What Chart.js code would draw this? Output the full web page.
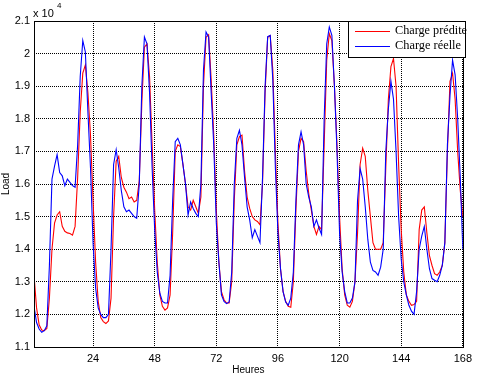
<!DOCTYPE html>
<html>
<head>
<meta charset="utf-8">
<script src="https://cdn.jsdelivr.net/npm/chart.js@4/dist/chart.umd.min.js"></script>
<style>
  html, body { margin: 0; padding: 0; background: #fff; }
  canvas { display: block; }
</style>
</head>
<body>
<canvas id="loadChart" width="477" height="378"></canvas>
<script>
/* ================= Data (x 10^4) ================= */
const hours = [];
for (let h = 1; h <= 168; h++) hours.push(h);

const xTicks = [24, 48, 72, 96, 120, 144, 168];
const yTicks = [1.1, 1.2, 1.3, 1.4, 1.5, 1.6, 1.7, 1.8, 1.9, 2, 2.1];

const chargePredite = [
  1.32, 1.22, 1.168, 1.152, 1.15, 1.157, 1.25, 1.40, 1.48, 1.505, 1.515, 1.47,
  1.455, 1.45, 1.448, 1.443, 1.47, 1.62, 1.82, 1.94, 1.965, 1.88, 1.75, 1.55,
  1.36, 1.24, 1.19, 1.178, 1.172, 1.18, 1.25, 1.50, 1.67, 1.685, 1.62, 1.59,
  1.575, 1.555, 1.56, 1.545, 1.55, 1.61, 1.85, 2.02, 2.03, 1.93, 1.72, 1.52,
  1.36, 1.26, 1.225, 1.213, 1.22, 1.26, 1.45, 1.70, 1.72, 1.715, 1.66, 1.60,
  1.53, 1.52, 1.55, 1.53, 1.51, 1.56, 1.90, 2.05, 2.058, 1.92, 1.75, 1.52,
  1.36, 1.27, 1.245, 1.235, 1.235, 1.30, 1.55, 1.72, 1.745, 1.75, 1.64, 1.56,
  1.525, 1.50, 1.49, 1.485, 1.475, 1.60, 1.88, 2.05, 2.055, 1.95, 1.70, 1.48,
  1.34, 1.27, 1.24, 1.225, 1.222, 1.30, 1.52, 1.70, 1.74, 1.73, 1.64, 1.57,
  1.52, 1.47, 1.445, 1.47, 1.46, 1.72, 1.98, 2.061, 2.04, 1.90, 1.72, 1.50,
  1.34, 1.26, 1.228, 1.222, 1.24, 1.30, 1.45, 1.66, 1.71, 1.685, 1.58, 1.50,
  1.42, 1.40, 1.40, 1.40, 1.42, 1.65, 1.86, 1.96, 1.985, 1.90, 1.66, 1.46,
  1.33, 1.26, 1.24, 1.228, 1.23, 1.24, 1.46, 1.52, 1.53, 1.45, 1.38, 1.35,
  1.325, 1.32, 1.33, 1.35, 1.42, 1.70, 1.915, 1.94, 1.86, 1.70, 1.58, 1.50
];

const chargeReelle = [
  1.225, 1.175, 1.155, 1.145, 1.15, 1.165, 1.35, 1.615, 1.655, 1.69, 1.635, 1.625,
  1.595, 1.615, 1.605, 1.595, 1.59, 1.72, 1.93, 2.04, 2.005, 1.82, 1.65, 1.42,
  1.28, 1.22, 1.20, 1.19, 1.19, 1.20, 1.40, 1.66, 1.705, 1.65, 1.58, 1.53,
  1.515, 1.52, 1.51, 1.50, 1.495, 1.60, 1.90, 2.051, 2.03, 1.88, 1.65, 1.46,
  1.33, 1.265, 1.24, 1.235, 1.235, 1.32, 1.55, 1.73, 1.74, 1.72, 1.66, 1.60,
  1.505, 1.545, 1.525, 1.51, 1.50, 1.60, 1.95, 2.066, 2.051, 1.88, 1.72, 1.48,
  1.36, 1.26, 1.24, 1.233, 1.238, 1.33, 1.60, 1.74, 1.765, 1.72, 1.62, 1.53,
  1.49, 1.435, 1.46, 1.44, 1.42, 1.62, 1.90, 2.052, 2.056, 1.92, 1.65, 1.45,
  1.34, 1.27, 1.238, 1.228, 1.25, 1.33, 1.55, 1.72, 1.76, 1.72, 1.60, 1.56,
  1.53, 1.47, 1.49, 1.465, 1.445, 1.80, 2.03, 2.082, 2.056, 1.90, 1.70, 1.45,
  1.33, 1.27, 1.235, 1.235, 1.25, 1.30, 1.55, 1.647, 1.615, 1.53, 1.43, 1.36,
  1.335, 1.33, 1.32, 1.345, 1.40, 1.70, 1.83, 1.915, 1.86, 1.70, 1.50, 1.37,
  1.30, 1.26, 1.228, 1.21, 1.20, 1.27, 1.40, 1.44, 1.47, 1.40, 1.34, 1.31,
  1.305, 1.30, 1.32, 1.35, 1.42, 1.72, 1.87, 1.98, 1.935, 1.80, 1.62, 1.40
];

const seriesNames = ["Charge prédite", "Charge réelle"];
const seriesColors = ["#ff0000", "#0000ff"];

/* ================= Frame, exponent, legend ================= */
const matlabDecor = {
  id: "matlabDecor",
  afterDraw(chart) {
    const { ctx, chartArea: a } = chart;
    ctx.save();
    // axes box
    ctx.strokeStyle = "#000";
    ctx.lineWidth = 1;
    ctx.strokeRect(Math.round(a.left) + 0.5, Math.round(a.top) + 0.5,
      Math.round(a.right - a.left), Math.round(a.bottom - a.top));

    // exponent label
    ctx.fillStyle = "#000";
    ctx.textBaseline = "alphabetic";
    ctx.font = "11px 'Liberation Sans', Arial, sans-serif";
    ctx.fillText("x 10", a.left - 1, 17);
    ctx.font = "8px 'Liberation Sans', Arial, sans-serif";
    ctx.fillText("4", a.left + 23, 8);

    // legend box
    const lx = 348, ly = Math.round(a.top), lw = Math.round(a.right) + 2 - lx, lh = 36;
    ctx.fillStyle = "#fff";
    ctx.fillRect(lx, ly, lw, lh);
    ctx.strokeStyle = "#000";
    ctx.strokeRect(lx + 0.5, ly + 0.5, lw, lh);
    ctx.font = "13px 'Liberation Serif', 'Times New Roman', serif";
    ctx.textBaseline = "middle";
    const rows = [ly + 10, ly + 25];
    const maxW = [72, 66];
    seriesNames.forEach((name, i) => {
      ctx.strokeStyle = seriesColors[i];
      ctx.beginPath();
      ctx.moveTo(355, rows[i] + 0.5);
      ctx.lineTo(390, rows[i] + 0.5);
      ctx.stroke();
      ctx.fillStyle = "#000";
      ctx.fillText(name, 395, rows[i], maxW[i]);
    });
    ctx.restore();
  },
};

const gridStyle = {
  color: "#000",
  lineWidth: 1,
  drawTicks: false,
};

const ctx = document.getElementById("loadChart").getContext("2d");
new Chart(ctx, {
  type: "line",
  data: {
    datasets: [
      {
        label: seriesNames[0],
        data: hours.map((h, i) => ({ x: h, y: chargePredite[i] })),
        borderColor: seriesColors[0],
        borderWidth: 1.1,
        pointRadius: 0,
        tension: 0,
        order: 1,
      },
      {
        label: seriesNames[1],
        data: hours.map((h, i) => ({ x: h, y: chargeReelle[i] })),
        borderColor: seriesColors[1],
        borderWidth: 1.1,
        pointRadius: 0,
        tension: 0,
        order: 0,
      },
    ],
  },
  options: {
    responsive: false,
    animation: false,
    devicePixelRatio: 1,
    layout: { padding: { top: 21, right: 9, left: 0, bottom: 0 } },
    plugins: { legend: { display: false }, tooltip: { enabled: false } },
    scales: {
      x: {
        type: "linear",
        min: 1,
        max: 168,
        afterBuildTicks: (s) => { s.ticks = xTicks.map((v) => ({ value: v })); },
        afterFit: (s) => { s.height = 31; },
        grid: { ...gridStyle },
        border: { display: false, dash: [1, 1] },
        ticks: {
          color: "#000",
          padding: 5,
          maxRotation: 0,
          font: { family: "'Liberation Sans', Arial, sans-serif", size: 11 },
        },
        title: {
          display: true,
          text: "Heures",
          color: "#000",
          padding: { top: 0, bottom: 2 },
          font: { family: "'Liberation Sans', Arial, sans-serif", size: 10 },
        },
      },
      y: {
        min: 1.1,
        max: 2.1,
        afterBuildTicks: (s) => { s.ticks = yTicks.map((v) => ({ value: v })); },
        afterFit: (s) => { s.width = 34; },
        grid: { ...gridStyle },
        border: { display: false, dash: [1, 1] },
        ticks: {
          color: "#000",
          padding: 4,
          font: { family: "'Liberation Sans', Arial, sans-serif", size: 11 },
          callback: (v) => String(Math.round(v * 10) / 10),
        },
        title: {
          display: true,
          text: "Load",
          color: "#000",
          padding: { top: 0, bottom: 0 },
          font: { family: "'Liberation Sans', Arial, sans-serif", size: 10 },
        },
      },
    },
  },
  plugins: [matlabDecor],
});
</script>
</body>
</html>
